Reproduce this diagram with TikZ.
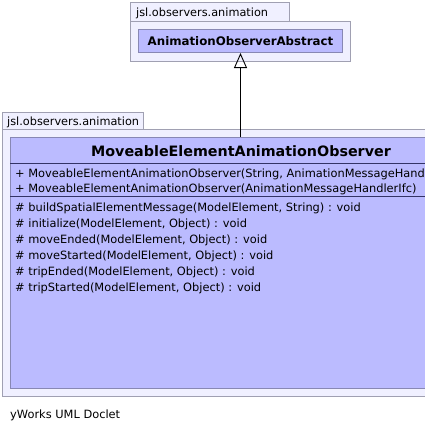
\documentclass[tikz,border=0pt]{standalone}
\usepackage{fontspec}
\setmainfont{DejaVu Sans}
\usetikzlibrary{arrows.meta}
\definecolor{pkgfill}{RGB}{240,240,255}
\definecolor{pkgline}{RGB}{160,160,178}
\definecolor{clsfill}{RGB}{187,187,255}
\definecolor{clsline}{RGB}{136,136,180}
\definecolor{sepline}{RGB}{51,51,102}
\begin{document}
\begin{tikzpicture}[x=1pt, y=-1pt,
    pkgbox/.style={draw=pkgline, fill=pkgfill, line width=1pt},
    clsbox/.style={draw=clsline, fill=clsfill, line width=1pt, inner sep=0pt},
    sepline/.style={draw=sepline, line width=0.9pt},
    pkglabel/.style={font=\fontsize{11.3}{14}\selectfont, anchor=base west, inner sep=0pt},
    member/.style={font=\fontsize{11.4}{14}\selectfont, anchor=base west, inner sep=0pt},
    inherit/.style={-{Triangle[open, length=15pt, width=13pt]}, line width=0.9pt}
]
    \useasboundingbox (0,0) rectangle (425,434);
    \clip (0,0) rectangle (425,434);

    % Upper package with the abstract class
    \draw[pkgbox] (130,2) rectangle (289,21);
    \draw[pkgbox] (130,21) rectangle (350,61);
    \node[pkglabel] (toppkg) at (136,16.5) {jsl.observers.animation};
    \node[clsbox, anchor=north west, minimum width=204pt, minimum height=23pt,
          font=\fontsize{11.8}{14}\selectfont\bfseries] (absclass) at (138,29)
          {AnimationObserverAbstract};

    % Lower package with the concrete class
    \draw[pkgbox] (2,112) rectangle (143,129);
    \draw[pkgbox] (2,129) rectangle (490,396);
    \node[pkglabel] (lowpkg) at (7,125) {jsl.observers.animation};
    \node[clsbox, anchor=north west, minimum width=470pt, minimum height=251pt] (moveclass) at (10,137) {};
    \node[font=\fontsize{14.3}{17}\selectfont\bfseries] (movetitle) at (241,151) {MoveableElementAnimationObserver};

    % Compartment lines
    \draw[sepline] (moveclass.west |- 0,163) -- (moveclass.east |- 0,163);
    \draw[sepline] (moveclass.west |- 0,196) -- (moveclass.east |- 0,196);

    % Constructors
    \node[member] (ctor1) at (15,177.5) {+ MoveableElementAnimationObserver(String, AnimationMessageHandlerIfc)};
    \node[member] (ctor2) at (15,192) {+ MoveableElementAnimationObserver(AnimationMessageHandlerIfc)};

    % Methods
    \node[member] (meth1) at (15,211.5) {\# buildSpatialElementMessage(ModelElement, String) : void};
    \node[member] (meth2) at (15,227) {\# initialize(ModelElement, Object) : void};
    \node[member] (meth3) at (15,243) {\# moveEnded(ModelElement, Object) : void};
    \node[member] (meth4) at (15,259) {\# moveStarted(ModelElement, Object) : void};
    \node[member] (meth5) at (15,275) {\# tripEnded(ModelElement, Object) : void};
    \node[member] (meth6) at (15,291) {\# tripStarted(ModelElement, Object) : void};

    % Generalization
    \draw[inherit] (absclass.south |- moveclass.north) -- (absclass.south);

    % Footer
    \node[member] (footer) at (10,418) {yWorks UML Doclet};
\end{tikzpicture}
\end{document}
